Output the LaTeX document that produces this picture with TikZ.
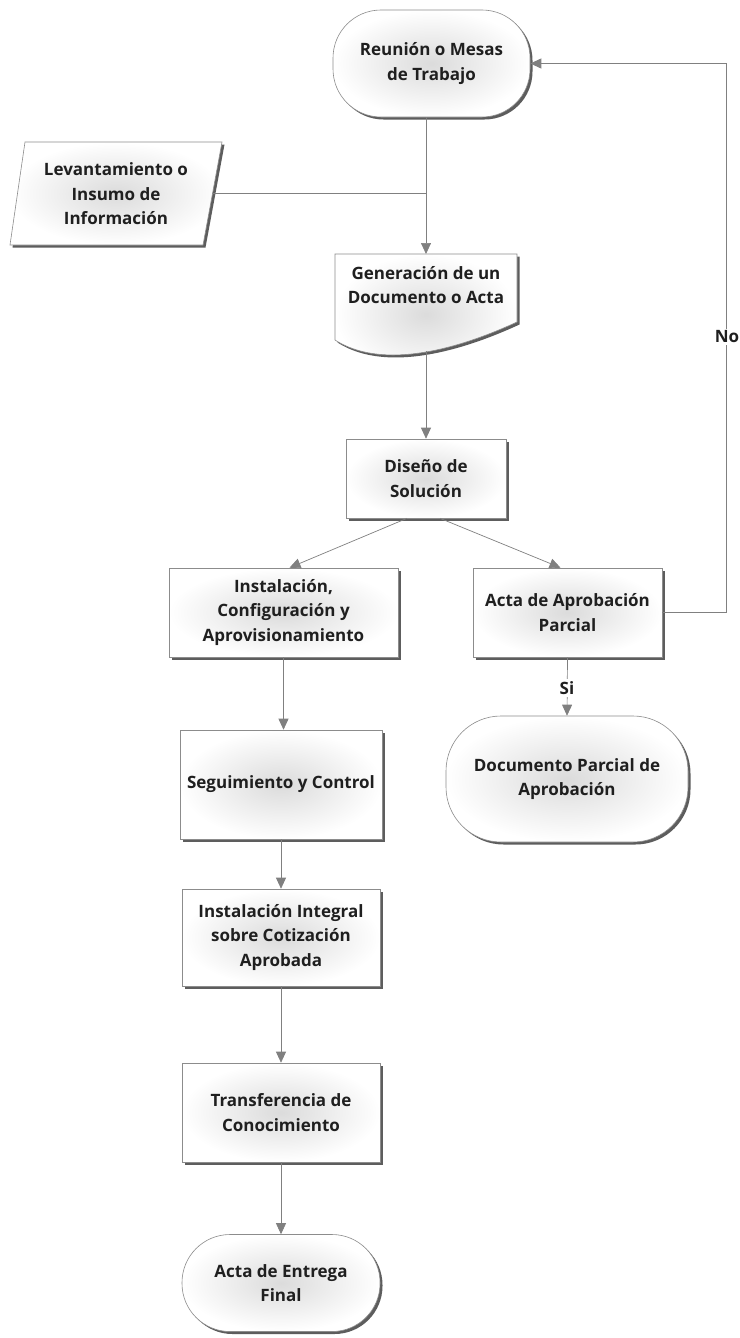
\documentclass[tikz,border=0pt]{standalone}
\usepackage{fontspec}
\setmainfont{Open Sans}
\usetikzlibrary{arrows.meta,shadows,calc}
\begin{document}
\begin{tikzpicture}[x=1pt,y=-1pt,
  every node/.style={font=\bfseries\fontsize{17}{24.5}\selectfont, text=black!88, align=center},
  boxshape/.style={draw=black!45, line width=0.6pt, inner color=black!14, outer color=white,
     drop shadow={shadow xshift=2.5pt, shadow yshift=-2.5pt, fill=black!70, opacity=0.9}},
  procbox/.style={boxshape, rectangle, inner sep=0pt},
  termbox/.style={boxshape, rectangle, rounded corners=48pt, inner sep=0pt},
  link/.style={draw=black!50, line width=0.7pt, -{Triangle[width=10pt,length=11pt]}},
  plainlink/.style={draw=black!50, line width=0.7pt},
  lbl/.style={fill=white, inner sep=2pt}
]
\fill[white] (0,0) rectangle (739,1338);
\useasboundingbox (0,0) rectangle (739,1338);

% Reunion
\node[termbox, minimum width=197pt, minimum height=107pt] (reu) at (431.5,63.5) {Reunión o Mesas\\de Trabajo};

% Levantamiento (parallelogram)
\path[boxshape] (25,142) -- (222,142) -- (203,245) -- (10,245) -- cycle;
\node (lev) at (116,194) {Levantamiento o\\Insumo de\\Información};
\coordinate (levE) at (212.6,193);

% Generacion (document)
\path[boxshape] (335,254) -- (517,254) -- (517,322) .. controls (478,340) and (390,375) .. (335,340) -- cycle;
\node (gen) at (426,285) {Generación de un\\Documento o Acta};
\coordinate (genN) at (426,254);
\coordinate (genS) at (426,351);

% Diseno
\node[procbox, minimum width=160pt, minimum height=79pt] (dis) at (426,478.5) {Diseño de\\Solución};

% Instalacion / Acta
\node[procbox, minimum width=229pt, minimum height=89pt] (ins) at (283.5,612.5) {Instalación,\\Configuración y\\Aprovisionamiento};
\node[procbox, minimum width=189pt, minimum height=89pt] (act) at (567.5,612.5) {Acta de Aprobación\\Parcial};

% Seguimiento / Documento parcial
\node[procbox, minimum width=202pt, minimum height=109pt] (seg) at (281,784.5) {Seguimiento y Control};
\node[termbox, minimum width=242pt, minimum height=126pt, rounded corners=55pt] (dpa) at (567,779) {Documento Parcial de\\Aprobación};

% Lower chain
\node[procbox, minimum width=198pt, minimum height=97pt] (iin) at (281,937.5) {Instalación Integral\\sobre Cotización\\Aprobada};
\node[procbox, minimum width=198pt, minimum height=99pt] (tra) at (281,1112.5) {Transferencia de\\Conocimiento};
\node[termbox, minimum width=198pt, minimum height=97pt] (aef) at (281,1283) {Acta de Entrega\\Final};

% Connectors
\draw[plainlink] (levE) -- (levE -| genN);
\draw[link] (reu.south -| genN) -- (genN);
\draw[link] (genS) -- (dis.north);
\draw[link] ($(dis.south)+(-19,0)$) -- ($(ins.north)+(6,0)$);
\draw[link] ($(dis.south)+(14,0)$) -- ($(act.north)+(-7,0)$);
\coordinate (loop) at (726,612.5);
\draw[link] (act.east) -- (loop) |- (reu.east);
\node[lbl] (no) at (727,337) {No};
\draw[link] (ins.south) -- (ins.south |- seg.north);
\draw[link] (act.south) -- (dpa.north);
\node[lbl] (si) at (567,688) {Si};
\draw[link] (seg.south) -- (iin.north);
\draw[link] (iin.south) -- (tra.north);
\draw[link] (tra.south) -- (aef.north);
\end{tikzpicture}
\end{document}
